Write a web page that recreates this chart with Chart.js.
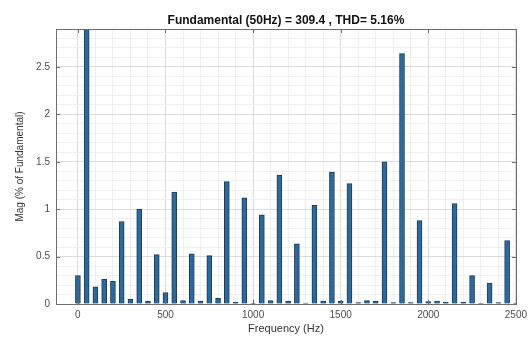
<!DOCTYPE html>
<html>
<head>
<meta charset="utf-8">
<script src="https://cdn.jsdelivr.net/npm/chart.js@4.4.1/dist/chart.umd.min.js"></script>
<style>
  html, body { margin: 0; padding: 0; background: #ffffff; }
  canvas { display: block; }
</style>
</head>
<body>
<canvas id="fft" width="532" height="340"></canvas>
<script>
// Harmonic frequencies (Hz)
const frequencies = [
  0, 50, 100, 150, 200, 250, 300, 350, 400, 450,
  500, 550, 600, 650, 700, 750, 800, 850, 900, 950,
  1000, 1050, 1100, 1150, 1200, 1250, 1300, 1350, 1400, 1450,
  1500, 1550, 1600, 1650, 1700, 1750, 1800, 1850, 1900, 1950,
  2000, 2050, 2100, 2150, 2200, 2250, 2300, 2350, 2400, 2450,
  2500
];

// Magnitude of each component, % of the fundamental
const magnitudes = [
  0.30, 100, 0.18, 0.26, 0.24, 0.87, 0.05, 1.00, 0.03, 0.52,
  0.12, 1.18, 0.035, 0.53, 0.03, 0.51, 0.06, 1.29, 0.02, 1.12,
  0.01, 0.94, 0.035, 1.36, 0.03, 0.635, 0.01, 1.04, 0.03, 1.39,
  0.03, 1.27, 0.015, 0.035, 0.03, 1.50, 0.015, 2.64, 0.015, 0.88,
  0.025, 0.03, 0.02, 1.06, 0.02, 0.30, 0.01, 0.22, 0.015, 0.67,
  0.01
];

// Labelled ticks
const xMajorTicks = [0, 500, 1000, 1500, 2000, 2500];
const yMajorTicks = [0, 0.5, 1, 1.5, 2, 2.5];

const titleText = 'Fundamental (50Hz) = 309.4 , THD= 5.16%';
const xTitle = 'Frequency (Hz)';
const yTitle = 'Mag (% of Fundamental)';

const X_MIN = -125, X_MAX = 2500, Y_MAX = 2.9;

const isMajor = (v, list) => list.some(t => Math.abs(t - v) < 1e-6);
const gridColor = list => c => (c.tick && isMajor(c.tick.value, list)) ? '#dcdcdc' : '#f0f0f0';

function minorTicks(from, to, step) {
  const out = [];
  for (let v = from; v <= to + 1e-9; v += step) out.push({ value: Math.round(v * 1000) / 1000 });
  return out;
}

// Axes box with inward tick marks
const axesBox = {
  id: 'axesBox',
  afterDatasetsDraw(chart) {
    const { ctx, chartArea: a, scales } = chart;
    ctx.save();
    ctx.strokeStyle = '#6e6e6e';
    ctx.lineWidth = 1;
    ctx.strokeRect(Math.round(a.left) + 0.5, Math.round(a.top) + 0.5,
                   Math.round(a.right - a.left), Math.round(a.bottom - a.top));
    const len = 4;
    ctx.beginPath();
    yMajorTicks.forEach(v => {
      const y = Math.round(scales.y.getPixelForValue(v)) + 0.5;
      ctx.moveTo(a.left, y); ctx.lineTo(a.left + len, y);
      ctx.moveTo(a.right, y); ctx.lineTo(a.right - len, y);
    });
    xMajorTicks.forEach(v => {
      const x = Math.round(scales.x.getPixelForValue(v)) + 0.5;
      ctx.moveTo(x, a.bottom); ctx.lineTo(x, a.bottom - len);
      ctx.moveTo(x, a.top); ctx.lineTo(x, a.top + len);
    });
    ctx.stroke();
    ctx.restore();
  }
};

new Chart(document.getElementById('fft'), {
  type: 'bar',
  data: {
    datasets: [{
      data: frequencies.map((f, i) => ({ x: f, y: magnitudes[i] })),
      backgroundColor: '#2b6a9a',
      borderColor: '#1f3b57',
      borderWidth: 1,
      barThickness: 5
    }]
  },
  options: {
    responsive: false,
    animation: false,
    events: [],
    layout: { padding: { left: 0, right: 13, top: 0, bottom: 0 } },
    plugins: {
      legend: { display: false },
      tooltip: { enabled: false },
      title: {
        display: true,
        text: titleText,
        color: '#111111',
        font: { family: '"Liberation Sans", Arial, sans-serif', size: 12, weight: 'bold', lineHeight: 1.2 },
        padding: { top: 13, bottom: 1.6 },
        fullSize: false
      }
    },
    scales: {
      x: {
        type: 'linear',
        min: X_MIN,
        max: X_MAX,
        offset: false,
        afterBuildTicks: s => { s.ticks = minorTicks(0, 2500, 100); },
        afterFit: s => { s.height = 36; },
        ticks: {
          autoSkip: false,
          maxRotation: 0,
          padding: 5,
          color: '#4d4d4d',
          font: { family: '"Liberation Sans", Arial, sans-serif', size: 10 },
          callback: v => isMajor(v, xMajorTicks) ? String(v) : ''
        },
        grid: {
          offset: false,
          drawTicks: false,
          color: gridColor(xMajorTicks),
          lineWidth: 1
        },
        border: { display: false },
        title: {
          display: true,
          text: xTitle,
          color: '#333333',
          font: { family: '"Liberation Sans", Arial, sans-serif', size: 11 },
          padding: { top: 0, bottom: 4 }
        }
      },
      y: {
        min: 0,
        max: Y_MAX,
        afterBuildTicks: s => { s.ticks = minorTicks(0, 2.9, 0.1); },
        afterFit: s => { s.width = 56; },
        ticks: {
          autoSkip: false,
          padding: 6,
          color: '#4d4d4d',
          font: { family: '"Liberation Sans", Arial, sans-serif', size: 10 },
          callback: v => isMajor(v, yMajorTicks) ? String(v) : ''
        },
        grid: {
          drawTicks: false,
          color: gridColor(yMajorTicks),
          lineWidth: 1
        },
        border: { display: false },
        title: {
          display: true,
          text: yTitle,
          color: '#333333',
          font: { family: '"Liberation Sans", Arial, sans-serif', size: 10 },
          padding: { top: 14, bottom: 0 }
        }
      }
    }
  },
  plugins: [axesBox]
});
</script>
</body>
</html>
